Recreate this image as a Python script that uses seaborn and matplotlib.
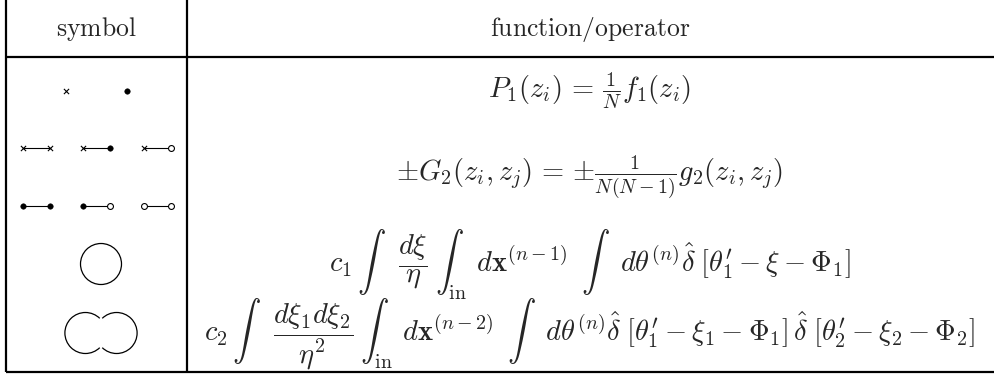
import pandas as pd
import seaborn as sns
import matplotlib.pyplot as plt
from matplotlib.patches import Circle, Wedge

# table content
headers = ["symbol", "function/operator"]
single_points = ["x", "dot"]
pair_rows = [
    [("x", "x"), ("x", "dot"), ("x", "o")],
    [("dot", "dot"), ("dot", "o"), ("o", "o")],
]
formulas = [
    r"$P_1(z_i)\,=\,\frac{1}{N}f_1(z_i)$",
    r"$\pm G_2(z_i,z_j)\,=\,{\pm}\frac{1}{N(N-1)}g_2(z_i,z_j)$",
    r"$c_1\,\int\hspace{1.0}\dfrac{d\xi}{\eta}\hspace{0.25}\int_{\mathrm{in}}\hspace{0.45}d\mathbf{x}^{(n-1)}"
    r"\hspace{0.5}\int\hspace{0.9}d\theta^{(n)}\hat{\delta}\;\left[\theta_1^{\prime}-\xi-\Phi_1\right]$",
    r"$c_2\,\int\hspace{1.0}\dfrac{d\xi_1d\xi_2}{\eta^2}\hspace{0.25}\int_{\mathrm{in}}\hspace{0.45}d\mathbf{x}^{(n-2)}"
    r"\hspace{0.5}\int\hspace{0.9}d\theta^{(n)}\hat{\delta}\;\left[\theta_1^{\prime}-\xi_1-\Phi_1\right]"
    r"\,\hat{\delta}\;\left[\theta_2^{\prime}-\xi_2-\Phi_2\right]$",
]

# layout (pixel units)
W, H = 995, 377
x_left, x_split, x_right = 6, 187, 995
y_head, y_bottom = 57, 372
sym_cx = (x_left + x_split) / 2
fun_cx = (x_split + 993) / 2
single_y, pair_y = 91, [148, 206]
formula_y = [91, 177, 265, 334]
loop_y = [264, 333]
slot_dx, half_span = 60.5, 13.5
loop_r = 20.5

sns.set_style("white")
plt.rcParams["mathtext.fontset"] = "cm"

fig = plt.figure(figsize=(W / 100, H / 100), dpi=100)
ax = fig.add_axes([0, 0, 1, 1])

# rules of the table
ax.vlines([x_left, x_split], 0, y_bottom, color="black", lw=1.6)
ax.hlines([y_head, y_bottom], x_left, x_right, color="black", lw=1.6)

# points: build a frame of every marker
rows = []
for i, kind in enumerate(single_points):
    rows.append(dict(seg=f"s{i}", x=sym_cx + (i - 0.5) * slot_dx, y=single_y, kind=kind))
for r, diagrams in enumerate(pair_rows):
    for s, (a, b) in enumerate(diagrams):
        cx = sym_cx + (s - 1) * slot_dx
        rows.append(dict(seg=f"p{r}{s}", x=cx - half_span, y=pair_y[r], kind=a))
        rows.append(dict(seg=f"p{r}{s}", x=cx + half_span, y=pair_y[r], kind=b))
pts = pd.DataFrame(rows)

lines = pts[pts.seg.str.startswith("p")]
sns.lineplot(data=lines, x="x", y="y", units="seg", estimator=None, sort=False,
             color="black", lw=0.8, ax=ax, legend=False)

sns.scatterplot(data=pts[pts.kind == "x"], x="x", y="y", marker="x", s=14,
                color="black", linewidth=0.8, ax=ax, legend=False, zorder=3)
sns.scatterplot(data=pts[pts.kind == "dot"], x="x", y="y", marker="o", s=16,
                color="black", edgecolor="black", ax=ax, legend=False, zorder=3)
sns.scatterplot(data=pts[pts.kind == "o"], x="x", y="y", marker="o", s=18,
                color="white", edgecolor="black", linewidth=0.8, ax=ax, legend=False, zorder=3)

# loop diagrams
ax.add_patch(Circle((sym_cx + 4.5, loop_y[0]), loop_r, fill=False, lw=0.9, color="black"))
for dx in (-15.6, 15.6):
    ax.add_patch(Circle((sym_cx + 4.5 + dx, loop_y[1]), loop_r, fill=False, lw=0.9, color="black"))
# hide the inner arcs of the double loop
for dx, th in ((-15.6, (-42, 42)), (15.6, (138, 222))):
    ax.add_patch(Wedge((sym_cx + 4.5 + dx, loop_y[1]), loop_r + 1.2, th[0], th[1],
                       color="white", zorder=2))

# header text
ax.text(sym_cx, 29, r"$\mathrm{" + headers[0] + "}$", ha="center", va="center", fontsize=18.5)
ax.text(fun_cx, 29, r"$\mathrm{" + headers[1] + "}$", ha="center", va="center", fontsize=18.5)

for f, y in zip(formulas, formula_y):
    ax.text(fun_cx, y, f, ha="center", va="center", fontsize=20.5)

ax.set_xlim(0, W)
ax.set_ylim(H, 0)
ax.axis("off")
fig.savefig("out.png", dpi=100)
